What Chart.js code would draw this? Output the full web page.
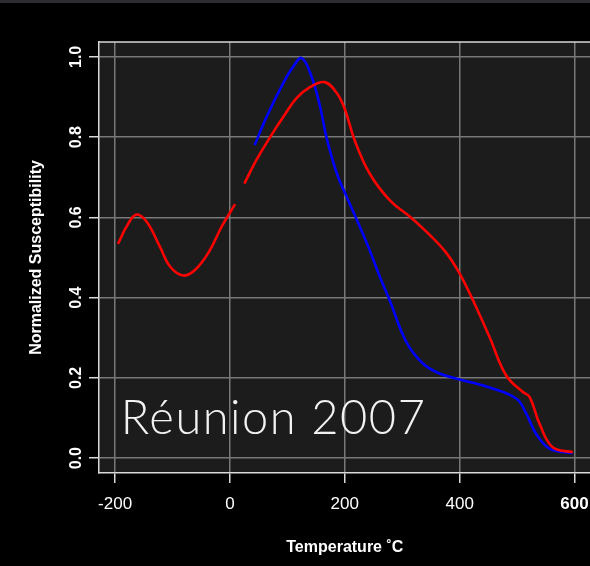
<!DOCTYPE html>
<html>
<head>
<meta charset="utf-8">
<script src="https://cdn.jsdelivr.net/npm/chart.js@4"></script>
<style>
  html, body { margin: 0; padding: 0; background: #000; }
  #wrap { position: relative; width: 590px; height: 566px; overflow: hidden; }
  #topbar { position: absolute; left: 0; top: 0; width: 590px; height: 3px; background: #2b2c30; }
</style>
</head>
<body>
<div id="wrap">
  <canvas id="susc" width="600" height="566"></canvas>
  <div id="topbar"></div>
</div>
<script>
// heating curve (red) - null marks the break in the record
var redTemps  = [-195, -180, -163, -145, -122, -104, -81, -60, -35, -14, 9, 17,
                 25, 45, 70, 95, 116, 140, 165, 186, 200, 217, 243, 278, 313, 348,
                 377, 400, 423, 452, 481, 510, 522, 539, 562, 597];
var redValues = [0.534, 0.577, 0.607, 0.589, 0.527, 0.477, 0.455, 0.47, 0.518, 0.578, 0.633, null,
                 0.684, 0.74, 0.80, 0.855, 0.897, 0.925, 0.937, 0.91, 0.87, 0.793, 0.71, 0.643, 0.602, 0.556,
                 0.511, 0.46, 0.394, 0.302, 0.206, 0.165, 0.152, 0.086, 0.027, 0.015];
// cooling curve (blue)
var blueTemps  = [43, 64, 93, 110, 125, 142, 157, 168, 186, 203, 226, 243, 261, 278,
                  307, 336, 365, 400, 452, 499, 516, 533, 557, 597];
var blueValues = [0.78, 0.851, 0.935, 0.975, 0.997, 0.951, 0.876, 0.80, 0.71, 0.652, 0.577, 0.519, 0.452, 0.394,
                  0.29, 0.236, 0.211, 0.196, 0.176, 0.148, 0.111, 0.061, 0.023, 0.012];

var xTickStep = 200, yTickStep = 0.2;
var plotLabel = 'Réunion 2007';
var labelAt = [-190, 0.06];

function pairs(xs, ys) {
    return xs.map(function(x, i){ return { x: x, y: ys[i] }; });
}

var plotFrame = {
    id: 'plotFrame',
    beforeDraw: function(chart) {
        var a = chart.chartArea, ctx = chart.ctx;
        ctx.save();
        ctx.fillStyle = '#1c1c1c';
        ctx.fillRect(a.left, a.top, a.right - a.left, a.bottom - a.top);
        ctx.restore();
    },
    beforeDatasetsDraw: function(chart) {
        var ctx = chart.ctx;
        var x = chart.scales.x.getPixelForValue(labelAt[0]);
        var y = chart.scales.y.getPixelForValue(labelAt[1]);
        ctx.save();
        ctx.font = '300 47px Lato';
        ctx.letterSpacing = '1.5px';
        ctx.fillStyle = '#f2f2f2';
        ctx.textBaseline = 'alphabetic';
        ctx.fillText(plotLabel, x, y);
        ctx.restore();
    },
    afterDraw: function(chart) {
        var a = chart.chartArea, ctx = chart.ctx;
        ctx.save();
        ctx.strokeStyle = '#d9d9d9';
        ctx.lineWidth = 1.5;
        ctx.beginPath();
        ctx.moveTo(a.left, a.top);
        ctx.lineTo(a.right, a.top);
        ctx.stroke();
        ctx.restore();
    }
};

var gridOpts = { color: '#787878', lineWidth: 1.5, tickColor: '#d9d9d9', tickLength: 10, tickWidth: 1.5 };

new Chart(document.getElementById('susc').getContext('2d'), {
    type: 'line',
    data: {
        datasets: [{
            data: pairs(redTemps, redValues),
            borderColor: '#ff0000',
            borderWidth: 2.6,
            pointRadius: 0,
            tension: 0.4,
            spanGaps: false
        }, {
            data: pairs(blueTemps, blueValues),
            borderColor: '#0000ff',
            borderWidth: 2.6,
            pointRadius: 0,
            tension: 0.4
        }]
    },
    options: {
        responsive: false,
        animation: false,
        devicePixelRatio: 1,
        layout: { padding: { top: 42, left: 0, right: 9, bottom: 0 } },
        plugins: { legend: { display: false }, tooltip: { enabled: false } },
        scales: {
            x: {
                type: 'linear',
                min: -228, max: 628,
                afterFit: function(s){ s.height = 93; },
                grid: gridOpts,
                border: { color: '#d9d9d9', width: 1.5 },
                ticks: {
                    stepSize: xTickStep, includeBounds: false, color: '#ffffff', padding: 11, maxRotation: 0,
                    font: function(c){
                        return { family: 'Liberation Sans', size: 17,
                                 weight: c.tick && c.tick.value === 600 ? 'bold' : 'normal' };
                    }
                },
                title: {
                    display: true, text: 'Temperature ˚C', color: '#ffffff',
                    font: { family: 'Liberation Sans', size: 16, weight: 'bold' },
                    padding: { top: 0, bottom: 9 }
                }
            },
            y: {
                type: 'linear',
                min: -0.037, max: 1.037,
                afterFit: function(s){ s.width = 99; },
                grid: gridOpts,
                border: { color: '#d9d9d9', width: 1.5 },
                ticks: {
                    stepSize: yTickStep, includeBounds: false, color: '#ffffff',
                    minRotation: 90, maxRotation: 90, crossAlign: 'center', padding: 1,
                    font: { family: 'Liberation Sans', size: 16, weight: 'bold' },
                    callback: function(v){ return v.toFixed(1); }
                },
                title: {
                    display: true, text: 'Normalized Susceptibility', color: '#ffffff',
                    font: { family: 'Liberation Sans', size: 16, weight: 'bold' },
                    padding: { top: 27, bottom: 0 }
                }
            }
        }
    },
    plugins: [plotFrame]
});
</script>
</body>
</html>
